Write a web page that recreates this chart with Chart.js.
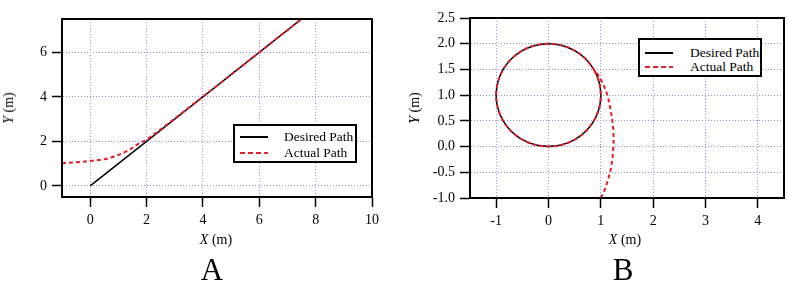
<!DOCTYPE html>
<html>
<head>
<meta charset="utf-8">
<script src="https://cdn.jsdelivr.net/npm/chart.js@4"></script>
<style>
  body { margin: 0; background: #fff; width: 788px; height: 302px; position: relative; overflow: hidden;
         font-family: "Liberation Serif", "DejaVu Serif", serif; color: #000; }
  canvas { position: absolute; top: 0; }
  .ytitle, .xtitle, .panel, .legend, .legend span { position: absolute; white-space: nowrap; }
  .ytitle { font-size: 14px; transform: translate(-50%, -50%) rotate(-90deg); }
  .xtitle { font-size: 14px; transform: translate(-50%, -50%); }
  .panel { font-size: 31px; transform: translate(-50%, -50%); }
  .legend { border: 2px solid #000; background: #fff; box-sizing: border-box; font-size: 13.5px; }
  .legend .solid { height: 2px; background: #000; }
  .legend .dash { height: 2px; background: repeating-linear-gradient(to right, #e3202a 0 5px, transparent 5px 8px); }
  .legend .txt { transform: translateY(-50%); }
</style>
</head>
<body>
<canvas id="chartA" width="394" height="255" style="left:0"></canvas>
<canvas id="chartB" width="394" height="255" style="left:394px"></canvas>

<div class="ytitle" style="left:9px; top:108px"><i>Y</i> (m)</div>
<div class="xtitle" style="left:216px; top:240px"><i>X</i> (m)</div>
<div class="panel" style="left:212px; top:270px">A</div>

<div class="ytitle" style="left:415px; top:108px"><i>Y</i> (m)</div>
<div class="xtitle" style="left:625px; top:240px"><i>X</i> (m)</div>
<div class="panel" style="left:623px; top:270px">B</div>

<div class="legend" style="left:233px; top:124px; width:124px; height:39px">
  <span class="solid" style="left:5px; top:10px; width:28px"></span>
  <span class="txt" style="left:49px; top:11px">Desired Path</span>
  <span class="dash" style="left:5px; top:26px; width:28px"></span>
  <span class="txt" style="left:49px; top:27px">Actual Path</span>
</div>
<div class="legend" style="left:638px; top:38px; width:124px; height:39px">
  <span class="solid" style="left:5px; top:12px; width:28px"></span>
  <span class="txt" style="left:50px; top:13px">Desired Path</span>
  <span class="dash" style="left:5px; top:26px; width:28px"></span>
  <span class="txt" style="left:50px; top:27px">Actual Path</span>
</div>

<script>
// Panel A: straight line path
const desiredAX = [0, 7.5];
const desiredAY = [0, 7.5];
const actualAX = [-1, -0.5, 0, 0.5, 0.85, 1.3, 1.75, 2.0, 2.4, 2.8, 3.5, 4.5, 6, 7.5];
const actualAY = [1.02, 1.06, 1.12, 1.2, 1.32, 1.56, 1.92, 2.08, 2.45, 2.83, 3.52, 4.5, 6, 7.5];
const xTicksA = [0, 2, 4, 6, 8, 10];
const yTicksA = [0, 2, 4, 6];

// Panel B: circle path (centre 0,1 radius 1)
const desiredBX = [0, 0.259, 0.5, 0.707, 0.866, 0.966, 1, 0.966, 0.866, 0.707, 0.5, 0.259, 0,
  -0.259, -0.5, -0.707, -0.866, -0.966, -1, -0.966, -0.866, -0.707, -0.5, -0.259, 0];
const desiredBY = [0, 0.034, 0.134, 0.293, 0.5, 0.741, 1, 1.259, 1.5, 1.707, 1.866, 1.966, 2,
  1.966, 1.866, 1.707, 1.5, 1.259, 1, 0.741, 0.5, 0.293, 0.134, 0.034, 0];
const actualBX = [1.0, 1.07, 1.13, 1.2, 1.24, 1.24, 1.22, 1.18, 1.13, 1.06, 1.0, 0.93, 0.866,
  0.707, 0.5, 0.259, 0, -0.259, -0.5, -0.707, -0.866, -0.966, -1, -0.966, -0.866, -0.707, -0.5,
  -0.259, 0, 0.259, 0.5, 0.707, 0.866, 0.966, 1, 0.966, 0.866];
const actualBY = [-1.0, -0.85, -0.67, -0.38, 0.0, 0.3, 0.5, 0.75, 0.98, 1.18, 1.3, 1.42, 1.5,
  1.707, 1.866, 1.966, 2, 1.966, 1.866, 1.707, 1.5, 1.259, 1, 0.741, 0.5, 0.293, 0.134,
  0.034, 0, 0.034, 0.134, 0.293, 0.5, 0.741, 1, 1.259, 1.5];
const xTicksB = [-1, 0, 1, 2, 3, 4];
const yTicksB = [-1, -0.5, 0, 0.5, 1, 1.5, 2, 2.5];

const tickFont = { family: '"Liberation Serif", "DejaVu Serif", serif', size: 14 };
const gridColor = '#9494e4';

function toPoints(xs, ys) {
    return xs.map((x, i) => ({ x: x, y: ys[i] }));
}

// Draws the box around the plot area
const framePlugin = {
    id: 'frame',
    afterDatasetsDraw(chart) {
        const { ctx, chartArea } = chart;
        ctx.save();
        ctx.strokeStyle = '#000';
        ctx.lineWidth = 2;
        ctx.strokeRect(chartArea.left, chartArea.top, chartArea.right - chartArea.left, chartArea.bottom - chartArea.top);
        ctx.restore();
    }
};

function axisOptions(min, max, ticks, size, fmt) {
    return {
        type: 'linear',
        min: min,
        max: max,
        afterBuildTicks: scale => { scale.ticks = ticks.map(v => ({ value: v })); },
        afterFit: scale => {
            if (scale.isHorizontal()) scale.height = size; else scale.width = size;
        },
        ticks: {
            color: '#000',
            font: tickFont,
            padding: 5,
            callback: fmt || (v => String(v))
        },
        grid: {
            color: gridColor,
            lineWidth: 1,
            tickLength: 10,
            tickColor: '#000',
            tickWidth: 1.5,
            tickBorderDash: []
        },
        border: { color: '#000', width: 2, dash: [1, 2] }
    };
}

function makeChart(id, datasets, scales, padding) {
    return new Chart(document.getElementById(id), {
        type: 'scatter',
        data: { datasets: datasets },
        options: {
            responsive: false,
            animation: false,
            layout: { padding: padding },
            plugins: { legend: { display: false }, tooltip: { enabled: false } },
            scales: scales
        },
        plugins: [framePlugin]
    });
}

function desiredSet(xs, ys, tension) {
    return {
        label: 'Desired Path',
        data: toPoints(xs, ys),
        showLine: true,
        borderColor: '#000',
        borderWidth: 1.5,
        pointRadius: 0,
        tension: tension,
        order: 2
    };
}

function actualSet(xs, ys, tension) {
    return {
        label: 'Actual Path',
        data: toPoints(xs, ys),
        showLine: true,
        borderColor: '#e3202a',
        borderWidth: 2,
        borderDash: [4, 3],
        pointRadius: 0,
        tension: tension,
        order: 1
    };
}

makeChart('chartA',
    [desiredSet(desiredAX, desiredAY, 0), actualSet(actualAX, actualAY, 0.35)],
    {
        x: axisOptions(-1, 10, xTicksA, 58),
        y: axisOptions(-0.5, 7.5, yTicksA, 62)
    },
    { top: 19, right: 22, left: 0, bottom: 0 });

makeChart('chartB',
    [desiredSet(desiredBX, desiredBY, 0.35), actualSet(actualBX, actualBY, 0.35)],
    {
        x: axisOptions(-1.5, 4.5, xTicksB, 57),
        y: axisOptions(-1, 2.5, yTicksB, 76, v => v.toFixed(1))
    },
    { top: 18, right: 4, left: 0, bottom: 0 });
</script>
</body>
</html>
